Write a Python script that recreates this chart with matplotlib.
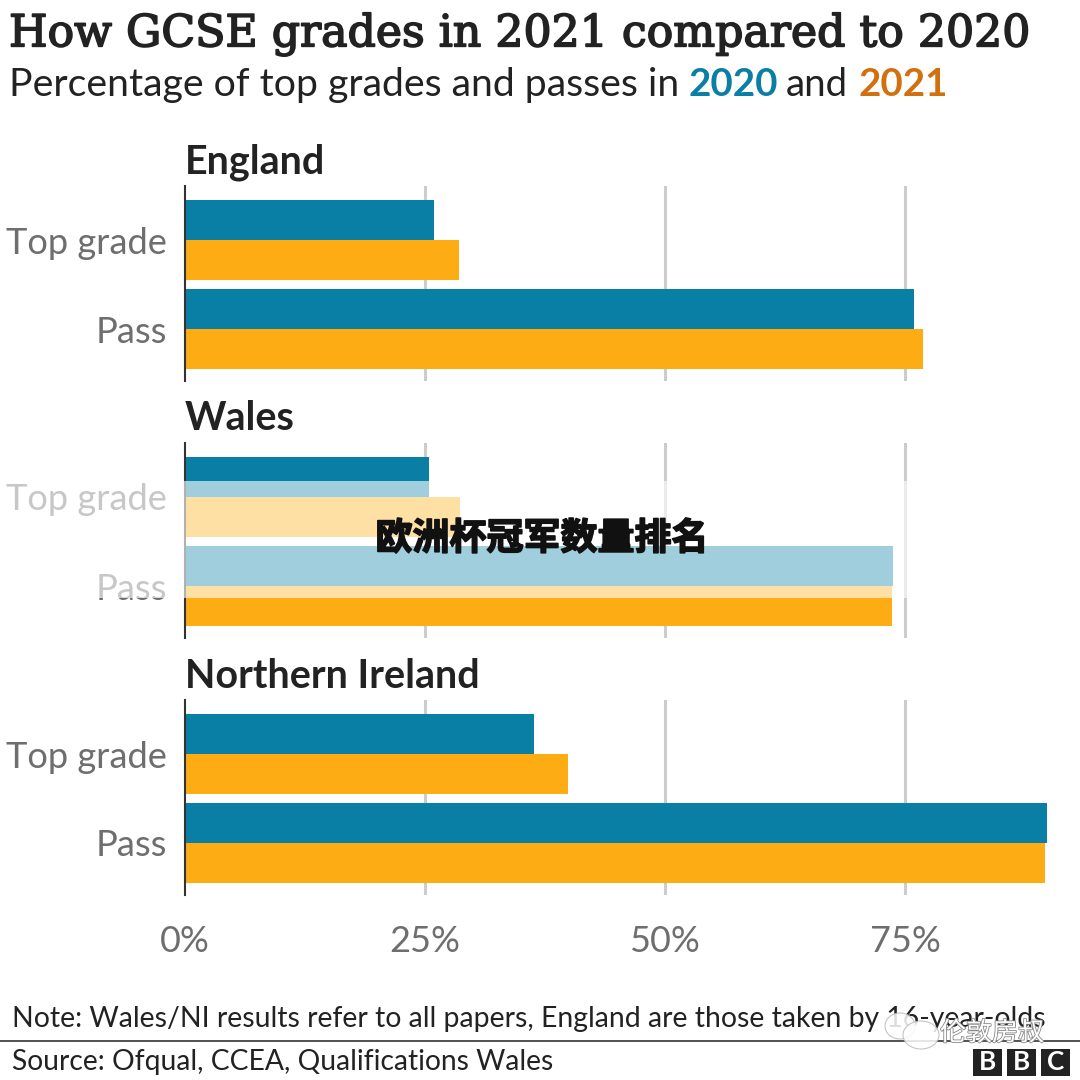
import matplotlib
matplotlib.use('Agg')
import matplotlib.pyplot as plt
import matplotlib.patheffects as pe
from matplotlib.patches import Rectangle, Ellipse
import numpy as np

W = 1080
H = 1080

nations = ['England', 'Wales', 'Northern Ireland']
categories = ['Top grade', 'Pass']
values_2020 = {'England': [25.9, 75.9], 'Wales': [25.4, 73.8], 'Northern Ireland': [36.4, 89.8]}
values_2021 = {'England': [28.5, 76.9], 'Wales': [28.6, 73.6], 'Northern Ireland': [39.9, 89.6]}
x_ticks = [0, 25, 50, 75]
x_labels = ['0%', '25%', '50%', '75%']

BLUE = '#0a7fa5'
ORANGE = '#fdac13'
TEXT = '#222222'
GREY = '#6e6e6e'
SANS = ['Lato', 'DejaVu Sans']


def fx(px):
    return px / W


def fy(py):
    return 1 - py / H


def px_pt(px):
    # font size from pixel size at dpi 100
    return px * 0.72


fig = plt.figure(figsize=(10.8, 10.8), dpi=100, facecolor='white')

# panel tops in pixels
panel_tops = [186, 443, 700]
panel_height = 195

for nation, top in zip(nations, panel_tops):
    ax = fig.add_axes([fx(185), fy(top + panel_height), fx(1080 - 185), panel_height / H])
    ax.set_xlim(0, (1080 - 185) / 9.6)
    ax.set_ylim(195, 0)   # y in pixels from panel top
    ax.patch.set_alpha(0)
    for s in ['top', 'right', 'bottom']:
        ax.spines[s].set_visible(False)
    ax.spines['left'].set_color('#333333')
    ax.spines['left'].set_linewidth(1.5)
    ax.spines['left'].set_zorder(5)
    ax.set_xticks([25, 50, 75])
    ax.set_xticklabels([])
    ax.tick_params(length=0)
    ax.grid(axis='x', color='#cccccc', linewidth=2.2, zorder=0)
    ax.set_axisbelow(True)

    y_pos = np.array([54, 143])   # boundary between the two bars of a group
    ax.barh(y_pos - 20, values_2020[nation], height=40, color=BLUE, zorder=3)
    ax.barh(y_pos + 20, values_2021[nation], height=40, color=ORANGE, zorder=3)
    ax.set_yticks(y_pos)
    ax.set_yticklabels(categories, fontsize=px_pt(36.2), color=GREY, family=SANS)
    ax.tick_params(axis='y', pad=13)

    fig.text(fx(185), fy(top - 24), nation, fontsize=px_pt(39.5), fontweight='bold',
             color=TEXT, family=SANS, ha='left', va='center')

# x tick labels under the last panel
for t, lab in zip(x_ticks, x_labels):
    fig.text(fx(185 + t * 9.6), fy(942), lab, fontsize=px_pt(36), color=GREY,
             family=SANS, ha='center', va='center')

# title block
fig.text(fx(9), fy(34), 'How GCSE grades in 2021 compared to 2020', fontsize=px_pt(44.2),
         color=TEXT, family=['DejaVu Serif'], ha='left', va='center',
         path_effects=[pe.withStroke(linewidth=1.2, foreground=TEXT)])
sub_y = fy(85)
fig.text(fx(9), sub_y, 'Percentage of top grades and passes in', fontsize=px_pt(39.2),
         color=TEXT, family=SANS, ha='left', va='center')
fig.text(fx(688), sub_y, '2020', fontsize=px_pt(38.5), color=BLUE, fontweight='bold',
         family=SANS, ha='left', va='center')
fig.text(fx(786), sub_y, 'and', fontsize=px_pt(38.5), color=TEXT, family=SANS,
         ha='left', va='center')
fig.text(fx(859), sub_y, '2021', fontsize=px_pt(38.5), color='#d2700f', fontweight='bold',
         family=SANS, ha='left', va='center')

# faded band behind the watermark
fig.add_artist(Rectangle((0, fy(598)), 1, (598 - 481) / H, transform=fig.transFigure,
                         facecolor='white', alpha=0.62, edgecolor='none', zorder=10))
fig.text(fx(542), fy(539), '欧洲杯冠军数量排名', fontsize=px_pt(37), fontweight='black',
         color='#111111', family=['Noto Sans CJK SC', 'DejaVu Sans'], ha='center',
         va='center', zorder=11,
         path_effects=[pe.withStroke(linewidth=1.2, foreground='#111111')])

# footer
fig.text(fx(12), fy(1019), 'Note: Wales/NI results refer to all papers, England are those taken by 16-year-olds',
         fontsize=px_pt(28.4), color=TEXT, family=SANS, ha='left', va='center')
fig.add_artist(plt.Line2D([0, 1], [fy(1041), fy(1041)], color='#333333', linewidth=1.2,
                          transform=fig.transFigure))
fig.text(fx(12), fy(1062), 'Source: Ofqual, CCEA, Qualifications Wales', fontsize=px_pt(28.2),
         color=TEXT, family=SANS, ha='left', va='center')

# BBC logo
for x0, letter in zip([973, 1007, 1041], 'BBC'):
    fig.add_artist(Rectangle((fx(x0), fy(1076)), 29 / W, 27 / H, transform=fig.transFigure,
                             facecolor='#222222', edgecolor='none', zorder=6))
    fig.text(fx(x0 + 14.5), fy(1062), letter, fontsize=px_pt(26), fontweight='bold',
             color='white', family=SANS, ha='center', va='center', zorder=7)

# wechat watermark bottom right
for cx, cy, w, h in [(900, 1026, 30, 26), (921, 1035, 36, 28)]:
    fig.add_artist(Ellipse((fx(cx), fy(cy)), w / W, h / H, transform=fig.transFigure,
                           facecolor='white', edgecolor='#bbbbbb', linewidth=0.8,
                           alpha=0.85, zorder=12))
fig.text(fx(992), fy(1033), '伦敦房叔', fontsize=px_pt(26), color='white',
         family=['Noto Sans CJK SC', 'DejaVu Sans'], style='italic', ha='center', va='center',
         zorder=13, path_effects=[pe.withStroke(linewidth=1.2, foreground='#888888')])

fig.savefig('out.png', dpi=100, facecolor='white')
